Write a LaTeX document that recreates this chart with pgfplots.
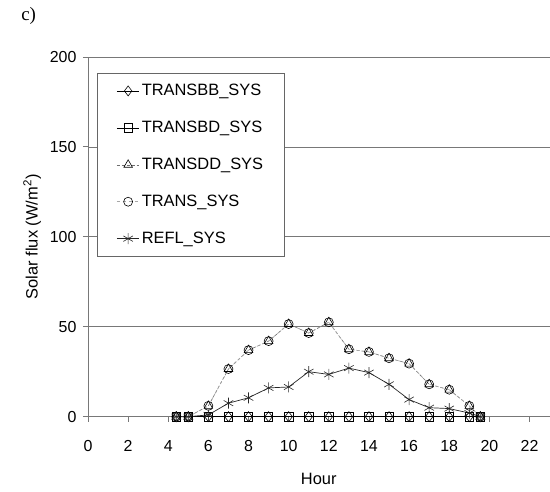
\documentclass[border=0pt]{standalone}
\usepackage{fontspec}
\setmainfont{Liberation Sans}
\newfontfamily\serif{Liberation Serif}
\usepackage{pgfplots}
\usepackage{pgfplotstable}
\pgfplotsset{compat=1.18}

\definecolor{gridgray}{RGB}{120,120,120}
\definecolor{curvegray}{RGB}{110,110,110}

% hour, value
\pgfplotstableread{
x y
4.4 0
5 0
6 0
7 0
8 0
9 0
10 0
11 0
12 0
13 0
14 0
15 0
16 0
17 0
18 0
19 0
19.55 0
}\zero
\pgfplotstableread{
x y
4.4 0
5 0
6 6
7 26.5
8 37
9 42
10 51.5
11 46.5
12 52.5
13 37.5
14 36
15 32.5
16 29.5
17 18
18 15
19 6
19.55 0
}\trans
\pgfplotstableread{
x y
4.4 0
5 0
6 1
7 7.5
8 10.5
9 16
10 16.5
11 25
12 23.5
13 27
14 24.5
15 18
16 9.5
17 5
18 4.5
19 2
19.55 0
}\refl

\begin{document}
\begin{tikzpicture}
\begin{axis}[
  scale only axis,
  width=462bp, height=360bp,
  xmin=0, xmax=23, ymin=0, ymax=200,
  xtick={0,2,...,22}, ytick={0,50,...,200},
  axis x line*=bottom, axis y line*=left,
  axis line style={gridgray, line width=0.8pt},
  ymajorgrids,
  y grid style={gridgray, line width=0.7pt},
  tick align=outside,
  major tick length=5bp,
  tick style={gridgray, line width=0.8pt},
  /pgf/number format/assume math mode=true,
  tick label style={font=\fontsize{16}{18}\selectfont},
  xticklabel style={yshift=-15bp},
  yticklabel style={xshift=-3bp},
  xlabel={Hour},
  ylabel={Solar flux (W/m\textsuperscript{2})},
  label style={font=\fontsize{16.5}{18}\selectfont},
  xlabel style={yshift=-15bp},
  ylabel style={yshift=2bp},
  clip=false,
  legend cell align={left},
  legend image code/.code={%
    \draw[mark repeat=2, mark phase=2]
      plot coordinates {(0cm,0cm) (0.4cm,0cm) (0.8cm,0cm)};},
  legend style={
    at={(rel axis cs:0.02,0.955)}, anchor=north west,
    draw=gray!80!black, line width=0.7pt, fill=white,
    font=\fontsize{16.5}{18}\selectfont,
    row sep=20bp, inner xsep=19bp, inner ysep=9bp,
  },
  legend image post style={line width=0.6pt},
  mark options={solid, fill=white, line width=0.6pt},
]
\path (rel axis cs:-0.1905,-0.2083) rectangle (rel axis cs:1,1.1583);
\addplot[black, line width=0.6pt, mark=diamond, mark size=5bp] table {\zero};
\addlegendentry{TRANSBB\_SYS}
\addplot[black, line width=0.6pt, mark=square, mark size=4.2bp] table {\zero};
\addlegendentry{TRANSBD\_SYS}
\addplot[curvegray, densely dashed, line width=0.6pt, mark=triangle, mark size=5bp,
  mark options={solid, draw=black, fill=white}] table {\trans};
\addlegendentry{TRANSDD\_SYS}
\addplot[gray!70, dashed, line width=0.6pt, mark=o, mark size=4.5bp,
  mark options={solid, draw=black, fill=white}] table {\trans};
\addlegendentry{TRANS\_SYS}
\addplot[black!85, line width=0.7pt, mark=asterisk, mark size=5.5bp] table {\refl};
\addlegendentry{REFL\_SYS}
\node[anchor=north west, font=\serif\fontsize{19}{21}\selectfont] at (rel axis cs:-0.152,1.147) {c)};
\end{axis}
\end{tikzpicture}
\end{document}
